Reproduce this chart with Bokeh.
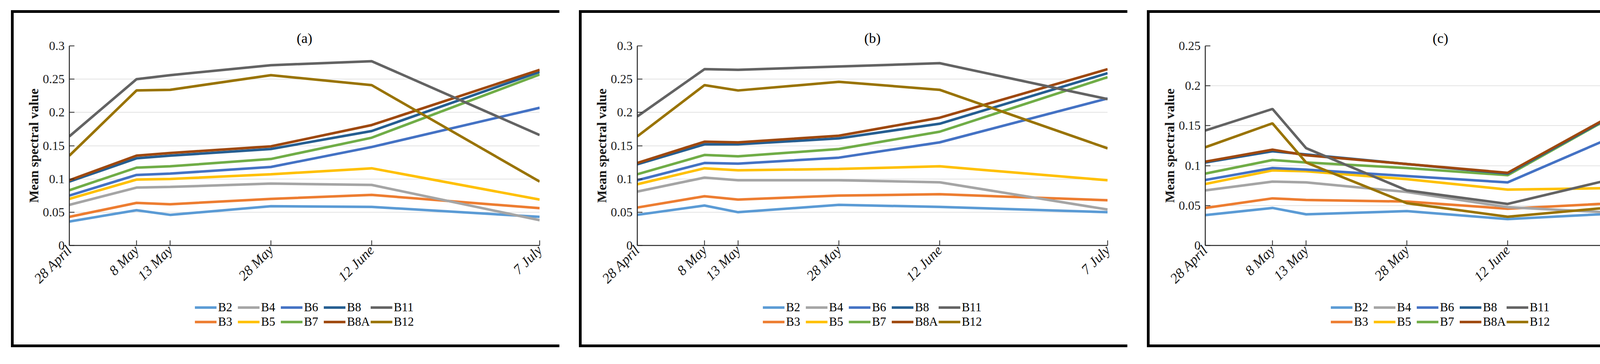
import math
from bokeh.plotting import figure
from bokeh.models import Range1d, FixedTicker, Legend, LegendItem, Spacer
from bokeh.layouts import row, column
from bokeh.embed import file_html
from bokeh.resources import INLINE

# ---------------- data ----------------
dates = ["28 April", "8 May", "13 May", "28 May", "12 June", "7 July"]
day_offsets = [0, 10, 15, 30, 45, 70]   # days after 28 April
bands = ["B2", "B3", "B4", "B5", "B6", "B7", "B8", "B8A", "B11", "B12"]
band_colors = ["#5B9BD5", "#ED7D31", "#A5A5A5", "#FFC000", "#4472C4",
               "#70AD47", "#255E91", "#9E480E", "#636363", "#997300"]
legend_order = ["B2", "B4", "B6", "B8", "B11", "B3", "B5", "B7", "B8A", "B12"]

# panel (a)
a_B2 = [0.036, 0.053, 0.046, 0.059, 0.058, 0.043]
a_B3 = [0.043, 0.064, 0.062, 0.070, 0.076, 0.056]
a_B4 = [0.061, 0.087, 0.088, 0.093, 0.091, 0.038]
a_B5 = [0.070, 0.099, 0.100, 0.107, 0.116, 0.069]
a_B6 = [0.075, 0.106, 0.108, 0.118, 0.148, 0.207]
a_B7 = [0.083, 0.117, 0.119, 0.130, 0.162, 0.257]
a_B8 = [0.096, 0.131, 0.135, 0.145, 0.172, 0.261]
a_B8A = [0.098, 0.135, 0.139, 0.149, 0.181, 0.264]
a_B11 = [0.164, 0.250, 0.256, 0.271, 0.277, 0.166]
a_B12 = [0.135, 0.233, 0.234, 0.256, 0.241, 0.096]

# panel (b)
b_B2 = [0.046, 0.060, 0.050, 0.061, 0.058, 0.050]
b_B3 = [0.057, 0.074, 0.069, 0.075, 0.077, 0.068]
b_B4 = [0.081, 0.102, 0.098, 0.098, 0.095, 0.054]
b_B5 = [0.092, 0.116, 0.113, 0.115, 0.119, 0.098]
b_B6 = [0.098, 0.124, 0.123, 0.132, 0.155, 0.221]
b_B7 = [0.107, 0.136, 0.134, 0.145, 0.171, 0.253]
b_B8 = [0.122, 0.152, 0.152, 0.161, 0.183, 0.259]
b_B8A = [0.124, 0.156, 0.155, 0.165, 0.192, 0.265]
b_B11 = [0.194, 0.265, 0.264, 0.269, 0.274, 0.220]
b_B12 = [0.164, 0.241, 0.233, 0.246, 0.234, 0.146]

# panel (c)
c_B2 = [0.038, 0.047, 0.039, 0.043, 0.033, 0.044]
c_B3 = [0.047, 0.059, 0.057, 0.055, 0.046, 0.057]
c_B4 = [0.069, 0.080, 0.079, 0.067, 0.048, 0.037]
c_B5 = [0.077, 0.094, 0.093, 0.083, 0.070, 0.073]
c_B6 = [0.082, 0.097, 0.095, 0.087, 0.079, 0.170]
c_B7 = [0.090, 0.107, 0.104, 0.097, 0.088, 0.206]
c_B8 = [0.104, 0.118, 0.114, 0.102, 0.090, 0.206]
c_B8A = [0.105, 0.120, 0.113, 0.102, 0.091, 0.207]
c_B11 = [0.144, 0.171, 0.122, 0.069, 0.052, 0.102]
c_B12 = [0.123, 0.153, 0.104, 0.053, 0.036, 0.055]

yticks_ab = [0, 0.05, 0.1, 0.15, 0.2, 0.25, 0.3]
ylabels_ab = ["0", "0.05", "0.1", "0.15", "0.2", "0.25", "0.3"]
yticks_c = [0, 0.05, 0.1, 0.15, 0.2, 0.25]
ylabels_c = ["0", "0.05", "0.1", "0.15", "0.2", "0.25"]

FONT = "Liberation Serif"
BLACK = {"background-color": "black"}
FIG_W, FIG_H, BW = 1397, 849, 7
MAIN_H = 730
LEG_H = FIG_H - MAIN_H
ML, MR = 142, 51


def make_panel(title, series, ymax, yticks, ylabels):
    p = figure(width=FIG_W, height=MAIN_H,
               x_range=Range1d(0, 70), y_range=Range1d(0, ymax),
               output_backend="svg", toolbar_location=None,
               min_border_left=ML, min_border_right=MR,
               min_border_top=84, min_border_bottom=MAIN_H - 84 - 511,
               title=title)
    p.outline_line_color = None
    p.background_fill_color = "white"
    p.border_fill_color = "white"

    p.title.align = "center"
    p.title.text_font = FONT
    p.title.text_font_size = "36px"
    p.title.text_font_style = "normal"
    p.title.text_color = "black"
    p.title.standoff = 0

    p.xgrid.visible = False
    p.ygrid.grid_line_color = "#d9d9d9"
    p.ygrid.grid_line_width = 1.5

    xa = p.xaxis[0]
    xa.ticker = FixedTicker(ticks=day_offsets)
    xa.major_label_overrides = {d: lab for d, lab in zip(day_offsets, dates)}
    xa.major_label_orientation = math.pi / 4
    xa.major_label_text_font = FONT
    xa.major_label_text_font_style = "italic"
    xa.major_label_text_font_size = "36px"
    xa.major_label_text_color = "#1a1a1a"
    xa.major_label_standoff = 6
    xa.major_tick_in = 13
    xa.major_tick_out = 0
    xa.minor_tick_line_color = None
    xa.axis_line_color = "#262626"
    xa.axis_line_width = 2.5
    xa.major_tick_line_color = "#262626"
    xa.major_tick_line_width = 2

    ya = p.yaxis[0]
    ya.ticker = FixedTicker(ticks=yticks)
    ya.major_label_overrides = {t: lab for t, lab in zip(yticks, ylabels)}
    ya.major_label_text_font = FONT
    ya.major_label_text_font_size = "32px"
    ya.major_label_text_color = "#1a1a1a"
    ya.major_label_standoff = 12
    ya.major_tick_in = 13
    ya.major_tick_out = 0
    ya.minor_tick_line_color = None
    ya.axis_line_color = "#262626"
    ya.axis_line_width = 2.5
    ya.major_tick_line_color = "#262626"
    ya.major_tick_line_width = 2
    ya.axis_label = "Mean spectral value"
    ya.axis_label_text_font = FONT
    ya.axis_label_text_font_style = "bold"
    ya.axis_label_text_font_size = "34px"
    ya.axis_label_text_color = "#1a1a1a"
    ya.axis_label_standoff = 2

    for band, col, vals in zip(bands, band_colors, series):
        p.line(day_offsets, vals, line_color=col, line_width=6.5)

    # legend strip under the chart: same series, drawn out of view, only their legend shows
    lg = figure(width=FIG_W, height=LEG_H, x_range=Range1d(-200, -100), y_range=Range1d(0, 1),
                output_backend="svg", toolbar_location=None,
                x_axis_type=None, y_axis_type=None,
                min_border_left=ML, min_border_right=MR,
                min_border_top=0, min_border_bottom=0)
    lg.outline_line_color = None
    lg.grid.visible = False
    proxies = {}
    for band, col, vals in zip(bands, band_colors, series):
        proxies[band] = lg.line(day_offsets, vals, line_color=col, line_width=6.5)
    items = [LegendItem(label=b, renderers=[proxies[b]]) for b in legend_order]
    legend = Legend(items=items, orientation="horizontal", ncols=5,
                    location="top_center", glyph_width=56, glyph_height=20,
                    label_standoff=4, label_width=49, label_height=20,
                    spacing=1, padding=0, margin=6,
                    border_line_color=None, background_fill_alpha=0,
                    label_text_font=FONT, label_text_font_size="31px",
                    label_text_color="black")
    lg.add_layout(legend, "center")

    top_bar = Spacer(width=FIG_W + BW, height=BW, styles=BLACK)
    bot_bar = Spacer(width=FIG_W + BW, height=BW, styles=BLACK)
    left_bar = Spacer(width=BW, height=FIG_H, styles=BLACK)
    return column(top_bar, row(left_bar, column(p, lg)), bot_bar)


pa = make_panel("(a)", [a_B2, a_B3, a_B4, a_B5, a_B6, a_B7, a_B8, a_B8A, a_B11, a_B12],
                0.3, yticks_ab, ylabels_ab)
pb = make_panel("(b)", [b_B2, b_B3, b_B4, b_B5, b_B6, b_B7, b_B8, b_B8A, b_B11, b_B12],
                0.3, yticks_ab, ylabels_ab)
pc = make_panel("(c)", [c_B2, c_B3, c_B4, c_B5, c_B6, c_B7, c_B8, c_B8A, c_B11, c_B12],
                0.25, yticks_c, ylabels_c)

layout = column(Spacer(height=26),
                row(Spacer(width=28), pa, Spacer(width=50), pb, Spacer(width=50), pc))

open("out.html", "w").write(file_html(layout, INLINE))
